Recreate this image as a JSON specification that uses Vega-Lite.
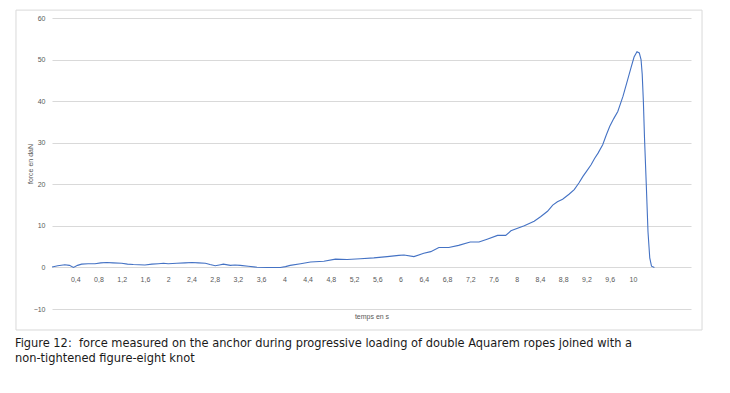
{
  "$schema": "https://vega.github.io/schema/vega-lite/v6.json",
  "autosize": {"type": "none"},
  "width": 639,
  "height": 291,
  "padding": {"left": 52, "top": 18, "right": 39, "bottom": 84},
  "background": "white",
  "config": {"view": {"stroke": null}, "font": "Liberation Sans"},
  "title": {
    "text": ["Figure 12:\u00a0 force measured on the anchor during progressive loading of double Aquarem ropes joined with a", "non-tightened figure-eight knot"],
    "orient": "bottom",
    "anchor": "start",
    "frame": "group",
    "dx": -37,
    "offset": 7,
    "font": "DejaVu Sans Condensed, Liberation Sans",
    "fontSize": 12.7,
    "fontWeight": "normal",
    "color": "#1a1a1a",
    "lineHeight": 14.5
  },
  "datasets": {
    "force": [
      {"t": 0, "f": 0.1}, {"t": 0.1, "f": 0.4}, {"t": 0.22, "f": 0.65}, {"t": 0.3, "f": 0.5},
      {"t": 0.37, "f": 0.0}, {"t": 0.44, "f": 0.5}, {"t": 0.51, "f": 0.8}, {"t": 0.62, "f": 0.9},
      {"t": 0.74, "f": 0.9}, {"t": 0.84, "f": 1.1}, {"t": 0.94, "f": 1.2}, {"t": 1.05, "f": 1.1},
      {"t": 1.2, "f": 1.0}, {"t": 1.3, "f": 0.8}, {"t": 1.4, "f": 0.7}, {"t": 1.6, "f": 0.6},
      {"t": 1.72, "f": 0.8}, {"t": 1.83, "f": 0.9}, {"t": 1.92, "f": 1.0}, {"t": 2.0, "f": 0.9},
      {"t": 2.15, "f": 1.0}, {"t": 2.29, "f": 1.1}, {"t": 2.41, "f": 1.2}, {"t": 2.52, "f": 1.1},
      {"t": 2.64, "f": 1.0}, {"t": 2.72, "f": 0.7}, {"t": 2.81, "f": 0.4}, {"t": 2.88, "f": 0.6},
      {"t": 2.95, "f": 0.8}, {"t": 3.07, "f": 0.5}, {"t": 3.15, "f": 0.6}, {"t": 3.24, "f": 0.5},
      {"t": 3.38, "f": 0.3}, {"t": 3.53, "f": 0.05}, {"t": 3.7, "f": 0.0}, {"t": 3.93, "f": 0.0},
      {"t": 4.02, "f": 0.2}, {"t": 4.1, "f": 0.5}, {"t": 4.28, "f": 0.9}, {"t": 4.45, "f": 1.3},
      {"t": 4.68, "f": 1.5}, {"t": 4.88, "f": 2.0}, {"t": 5.08, "f": 1.9}, {"t": 5.31, "f": 2.1},
      {"t": 5.54, "f": 2.3}, {"t": 5.77, "f": 2.6}, {"t": 5.97, "f": 2.9}, {"t": 6.06, "f": 3.0},
      {"t": 6.23, "f": 2.6}, {"t": 6.4, "f": 3.4}, {"t": 6.52, "f": 3.8}, {"t": 6.66, "f": 4.8},
      {"t": 6.83, "f": 4.8}, {"t": 7.0, "f": 5.3}, {"t": 7.2, "f": 6.1}, {"t": 7.35, "f": 6.1},
      {"t": 7.49, "f": 6.8}, {"t": 7.67, "f": 7.7}, {"t": 7.81, "f": 7.7}, {"t": 7.9, "f": 8.8},
      {"t": 8.13, "f": 10.0}, {"t": 8.3, "f": 11.1}, {"t": 8.41, "f": 12.2}, {"t": 8.53, "f": 13.5},
      {"t": 8.62, "f": 15.0}, {"t": 8.7, "f": 15.8}, {"t": 8.79, "f": 16.4}, {"t": 8.9, "f": 17.6},
      {"t": 8.99, "f": 18.7}, {"t": 9.07, "f": 20.3}, {"t": 9.14, "f": 21.9}, {"t": 9.21, "f": 23.3},
      {"t": 9.28, "f": 24.7}, {"t": 9.34, "f": 26.2}, {"t": 9.4, "f": 27.5}, {"t": 9.48, "f": 29.5},
      {"t": 9.54, "f": 31.8}, {"t": 9.6, "f": 33.9}, {"t": 9.67, "f": 35.8}, {"t": 9.74, "f": 37.5},
      {"t": 9.83, "f": 41.2}, {"t": 9.91, "f": 45.2}, {"t": 9.97, "f": 48.2}, {"t": 10.02, "f": 50.6},
      {"t": 10.07, "f": 51.9}, {"t": 10.11, "f": 51.6}, {"t": 10.14, "f": 50.0}, {"t": 10.16, "f": 46.5},
      {"t": 10.18, "f": 40.0}, {"t": 10.2, "f": 31.0}, {"t": 10.23, "f": 20.0}, {"t": 10.26, "f": 8.5},
      {"t": 10.29, "f": 2.3}, {"t": 10.32, "f": 0.3}, {"t": 10.37, "f": 0.0}
    ]
  },
  "layer": [
    {
      "data": {"name": "force"},
      "mark": {"type": "line", "color": "#4472C4", "strokeWidth": 1.1},
      "encoding": {
        "x": {
          "field": "t",
          "type": "quantitative",
          "scale": {"domain": [0, 11], "nice": false, "zero": false},
          "axis": {
            "orient": "bottom",
            "offset": -41.6,
            "values": [0.4, 0.8, 1.2, 1.6, 2, 2.4, 2.8, 3.2, 3.6, 4, 4.4, 4.8, 5.2, 5.6, 6, 6.4, 6.8, 7.2, 7.6, 8, 8.4, 8.8, 9.2, 9.6, 10],
            "tickCount": 40,
            "labelExpr": "replace(format(datum.value, '.1~f'), '.', ',')",
            "labelOverlap": false,
            "domain": false,
            "ticks": false,
            "tickSize": 0,
            "grid": false,
            "labelPadding": 8,
            "labelFontSize": 7,
            "labelColor": "#595959",
            "title": "temps en s",
            "titleFontSize": 7,
            "titleFontWeight": "normal",
            "titleColor": "#595959",
            "titleBaseline": "middle",
            "titleY": 49
          }
        },
        "y": {
          "field": "f",
          "type": "quantitative",
          "scale": {"domain": [-10, 60], "nice": false, "zero": false},
          "axis": {
            "values": [-10, 0, 10, 20, 30, 40, 50, 60],
            "tickCount": 20,
            "labelOverlap": false,
            "domain": false,
            "ticks": false,
            "tickSize": 0,
            "grid": true,
            "gridColor": "#d9d9d9",
            "gridWidth": 1,
            "labelPadding": 7,
            "labelFontSize": 7,
            "labelColor": "#595959",
            "title": "force en daN",
            "titleFontSize": 7,
            "titleFontWeight": "normal",
            "titleColor": "#595959",
            "titleX": -22,
            "titleY": 145.5,
            "titleAngle": -90,
            "titleBaseline": "middle",
            "titleAlign": "center"
          }
        }
      }
    },
    {
      "data": {"values": [{"frame": "chart area"}]},
      "mark": {"type": "rect", "fill": null, "stroke": "#d9d9d9", "strokeWidth": 1},
      "encoding": {
        "x": {"datum": -0.62, "type": "quantitative"},
        "x2": {"datum": 11.19},
        "y": {"datum": 61.9, "type": "quantitative"},
        "y2": {"datum": -15.05}
      }
    }
  ]
}
